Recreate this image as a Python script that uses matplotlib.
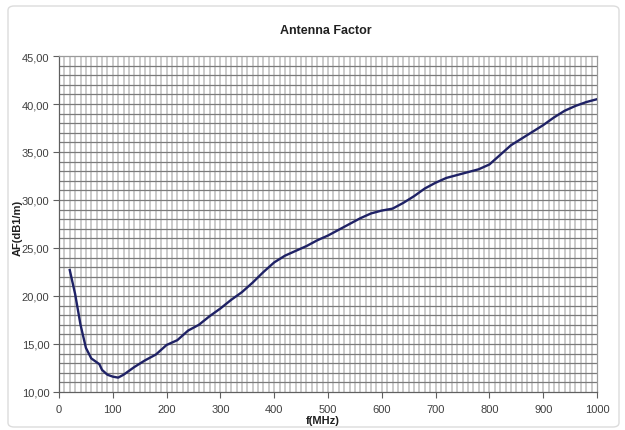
import numpy as np
import matplotlib
matplotlib.use("Agg")
import matplotlib.pyplot as plt
from matplotlib.patches import FancyBboxPatch
from matplotlib.ticker import MultipleLocator, FuncFormatter

plt.rcParams['font.family'] = ['Liberation Sans', 'DejaVu Sans']

# antenna factor
freq = [20, 30, 40, 50, 60, 70, 75, 80, 90, 100, 110, 120, 140, 160, 180, 200,
        220, 240, 260, 280, 300, 320, 340, 360, 380, 400, 420, 440, 460, 480,
        500, 520, 540, 560, 580, 600, 620, 640, 660, 680, 700, 720, 740, 760,
        780, 800, 820, 840, 860, 880, 900, 920, 940, 960, 980, 1000]
af = [22.7, 20.2, 17.0, 14.6, 13.5, 13.1, 12.9, 12.3, 11.8, 11.6, 11.5, 11.8,
      12.6, 13.3, 13.9, 14.9, 15.4, 16.4, 17.0, 17.9, 18.7, 19.6, 20.4, 21.4,
      22.5, 23.5, 24.2, 24.7, 25.2, 25.8, 26.3, 26.9, 27.5, 28.1, 28.6, 28.9,
      29.1, 29.7, 30.4, 31.2, 31.8, 32.3, 32.6, 32.9, 33.2, 33.7, 34.7, 35.7,
      36.4, 37.1, 37.8, 38.6, 39.3, 39.8, 40.2, 40.5]

fig = plt.figure(figsize=(6.25, 4.31), dpi=100)
fig.patch.set_facecolor('white')
frame = FancyBboxPatch((8 / 625, 3 / 431), 611 / 625, 421 / 431,
                       boxstyle="round,pad=0,rounding_size=0.01",
                       transform=fig.transFigure, facecolor='none',
                       edgecolor='#dcdcdc', linewidth=1.0, zorder=0)
fig.patches.append(frame)

ax = fig.add_axes([59 / 625, 38 / 431, 538 / 625, 336 / 431])
ax.set_facecolor('white')

# grid: light vertical every 10 MHz, darker horizontal every 1 dB
for x in np.arange(10, 1000, 10):
    ax.axvline(x, color='#cbcbcb', linewidth=1.4, zorder=1)
for y in np.arange(11, 45, 1):
    ax.axhline(y, color='#7a7a7a', linewidth=0.9, zorder=2)

ax.plot(freq, af, color='#1f2266', linewidth=1.7, zorder=3)

ax.set_xlim(0, 1000)
ax.set_ylim(10, 45)
ax.xaxis.set_major_locator(MultipleLocator(100))
ax.yaxis.set_major_locator(MultipleLocator(5))
ax.yaxis.set_major_formatter(FuncFormatter(lambda v, p: f"{v:.2f}".replace('.', ',')))
ax.tick_params(axis='both', direction='out', length=4, width=0.8,
               color='#606060', labelsize=8, labelcolor='#404040', pad=3)
ax.tick_params(axis='x', pad=5)

for side in ['left', 'bottom']:
    ax.spines[side].set_color('#606060')
    ax.spines[side].set_linewidth(0.9)
for side in ['right', 'top']:
    ax.spines[side].set_color('#9a9a9a')
    ax.spines[side].set_linewidth(0.9)

fig.text(326 / 625, 1 - 31 / 431, 'Antenna Factor', ha='center', va='center',
         fontsize=9, fontweight='bold', color='#202020')
fig.text(323 / 625, 1 - 421 / 431, 'f(MHz)', ha='center', va='center',
         fontsize=8, fontweight='bold', color='#202020')
fig.text(18 / 625, 1 - 228 / 431, 'AF(dB1/m)', ha='center', va='center',
         rotation=90, fontsize=8, fontweight='bold', color='#202020')

fig.savefig('out.png', dpi=100)
